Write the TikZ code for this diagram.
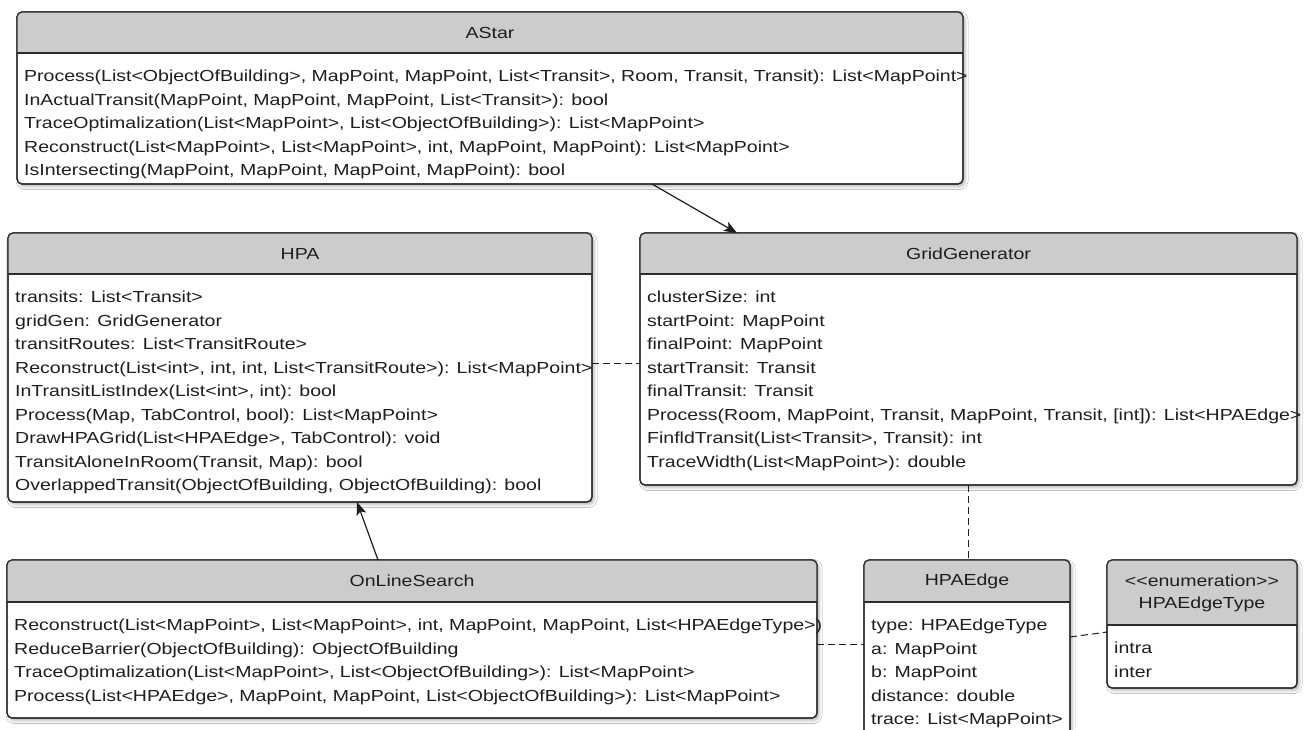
\documentclass[tikz,border=0pt]{standalone}
\usepackage{fontspec}
\newfontfamily\umlfont{Liberation Sans}[FakeStretch=1.22]
\usetikzlibrary{arrows.meta,shadows.blur}
\definecolor{headgray}{HTML}{CCCCCC}
\definecolor{edgegray}{HTML}{2B2B2B}
\definecolor{inkgray}{HTML}{1E1E1E}
\tikzset{
  classbox/.style={draw=edgegray, line width=1.2pt, fill=white, rounded corners=5pt,
    inner sep=0pt, outer sep=0pt, anchor=north west,
    blur shadow={shadow xshift=2pt, shadow yshift=-2.5pt, shadow blur radius=3pt, shadow opacity=30}},
  classborder/.style={draw=edgegray, line width=1.2pt, rounded corners=5pt},
  headfill/.style={fill=headgray, rounded corners=5pt},
  classtitle/.style={font=\umlfont\fontsize{16}{22}\selectfont, text=inkgray, inner sep=0pt, align=center},
  member/.style={font=\umlfont\fontsize{16}{19}\selectfont, text=inkgray, inner sep=0pt, anchor=base west},
  assoc/.style={draw=inkgray, line width=1.2pt, -{Stealth[length=13pt,width=10pt,inset=3pt]}},
  depend/.style={draw=inkgray, line width=1pt, dash pattern=on 7pt off 4pt},
}
% grey header, outline and separator of a class box: #1 node, #2 header height
\newcommand\classframe[2]{%
  \begin{scope}
    \clip (#1.north west) rectangle ([yshift=-#2pt]#1.north east);
    \fill[headfill] (#1.north west) rectangle (#1.south east);
  \end{scope}
  \draw[classborder] (#1.north west) rectangle (#1.south east);
  \draw[edgegray, line width=1.2pt] ([yshift=-#2pt]#1.north west) -- ([yshift=-#2pt]#1.north east);
}
% one text line per member: #1 node, #2 header height, #3 list of lines
\newcommand\classmembers[3]{%
  \foreach \txt [count=\i] in {#3}
    \node[member] (#1-m\i) at ([xshift=7pt, yshift={-(#2+23.45*\i+5.5)*1pt}]#1.north west) {\txt};
}
\begin{document}
\begin{tikzpicture}[x=1pt, y=-1pt]
\useasboundingbox (0,0) rectangle (1309,729);
\clip (0,0) rectangle (1309,729);
\fill[white] (0,0) rectangle (1309,729);

% class boxes
\node[classbox, minimum width=946pt, minimum height=172pt] (astar) at (17,12) {};
\node[classbox, minimum width=584pt, minimum height=269pt] (hpa) at (8,233) {};
\node[classbox, minimum width=657pt, minimum height=252pt] (gridgen) at (640,233) {};
\node[classbox, minimum width=810pt, minimum height=158pt] (onlinesearch) at (7,560) {};
\node[classbox, minimum width=206pt, minimum height=200pt] (hpaedge) at (864,560) {};
\node[classbox, minimum width=190pt, minimum height=128pt] (hpaedgetype) at (1107,560) {};

\classframe{astar}{41}
\classframe{hpa}{41}
\classframe{gridgen}{41}
\classframe{onlinesearch}{42}
\classframe{hpaedge}{42}
\classframe{hpaedgetype}{65}

% titles
\node[classtitle] (astar-title) at ([yshift=-20.5pt]astar.north) {AStar};
\node[classtitle] (hpa-title) at ([yshift=-20.5pt]hpa.north) {HPA};
\node[classtitle] (gridgen-title) at ([yshift=-20.5pt]gridgen.north) {GridGenerator};
\node[classtitle] (onlinesearch-title) at ([yshift=-21pt]onlinesearch.north) {OnLineSearch};
\node[classtitle] (hpaedge-title) at ([yshift=-21pt]hpaedge.north) {HPAEdge};
\node[classtitle] (hpaedgetype-title) at ([yshift=-33.5pt]hpaedgetype.north) {<<enumeration>>\\HPAEdgeType};

% members
\classmembers{astar}{41}{
  {Process(List<ObjectOfBuilding>, MapPoint, MapPoint, List<Transit>, Room, Transit, Transit): List<MapPoint>},
  {InActualTransit(MapPoint, MapPoint, MapPoint, List<Transit>): bool},
  {TraceOptimalization(List<MapPoint>, List<ObjectOfBuilding>): List<MapPoint>},
  {Reconstruct(List<MapPoint>, List<MapPoint>, int, MapPoint, MapPoint): List<MapPoint>},
  {IsIntersecting(MapPoint, MapPoint, MapPoint, MapPoint): bool}}
\classmembers{hpa}{41}{
  {transits: List<Transit>},
  {gridGen: GridGenerator},
  {transitRoutes: List<TransitRoute>},
  {Reconstruct(List<int>, int, int, List<TransitRoute>): List<MapPoint>},
  {InTransitListIndex(List<int>, int): bool},
  {Process(Map, TabControl, bool): List<MapPoint>},
  {DrawHPAGrid(List<HPAEdge>, TabControl): void},
  {TransitAloneInRoom(Transit, Map): bool},
  {OverlappedTransit(ObjectOfBuilding, ObjectOfBuilding): bool}}
\classmembers{gridgen}{41}{
  {clusterSize: int},
  {startPoint: MapPoint},
  {finalPoint: MapPoint},
  {startTransit: Transit},
  {finalTransit: Transit},
  {Process(Room, MapPoint, Transit, MapPoint, Transit, [int]): List<HPAEdge>},
  {FinfldTransit(List<Transit>, Transit): int},
  {TraceWidth(List<MapPoint>): double}}
\classmembers{onlinesearch}{42}{
  {Reconstruct(List<MapPoint>, List<MapPoint>, int, MapPoint, MapPoint, List<HPAEdgeType>)},
  {ReduceBarrier(ObjectOfBuilding): ObjectOfBuilding},
  {TraceOptimalization(List<MapPoint>, List<ObjectOfBuilding>): List<MapPoint>},
  {Process(List<HPAEdge>, MapPoint, MapPoint, List<ObjectOfBuilding>): List<MapPoint>}}
\classmembers{hpaedge}{42}{
  {type: HPAEdgeType},
  {a: MapPoint},
  {b: MapPoint},
  {distance: double},
  {trace: List<MapPoint>}}
\classmembers{hpaedgetype}{65}{
  {intra},
  {inter}}

% relations
\draw[assoc] ([xshift=635pt]astar.south west) -- ([xshift=97pt]gridgen.north west);
\draw[assoc] ([xshift=371pt]onlinesearch.north west) -- ([xshift=349pt]hpa.south west);
\draw[depend] ([yshift=-130pt]hpa.north east) -- ([yshift=-130pt]gridgen.north west);
\draw[depend] (gridgen.south) -- (gridgen.south |- hpaedge.north);
\draw[depend] ([yshift=-84pt]onlinesearch.north east) -- ([yshift=-84pt]hpaedge.north west);
\draw[depend] ([yshift=-77pt]hpaedge.north east) -- ([yshift=-72pt]hpaedgetype.north west);
\end{tikzpicture}
\end{document}
